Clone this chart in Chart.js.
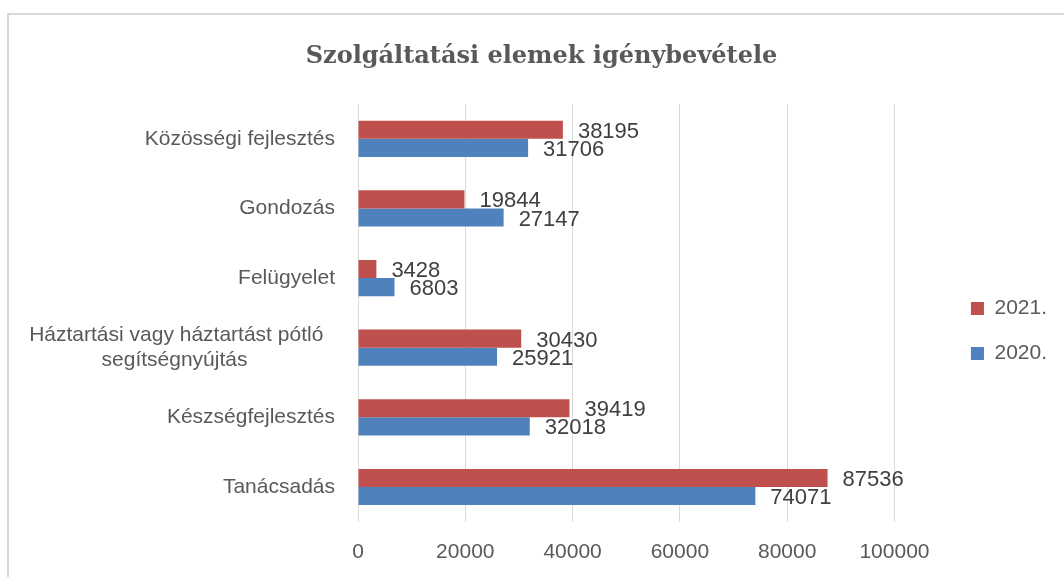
<!DOCTYPE html>
<html>
<head>
<meta charset="utf-8">
<script src="https://cdn.jsdelivr.net/npm/chart.js@4.4.1/dist/chart.umd.min.js"></script>
<style>
  html, body { margin: 0; padding: 0; background: #fff; overflow: hidden; }
  #frame {
    position: absolute; left: 7px; top: 13px; width: 1200px; height: 700px;
    border-left: 2px solid #d9d9d9; border-top: 2px solid #d9d9d9;
  }
  #myChart { position: absolute; left: 0; top: 0; }
</style>
</head>
<body>
<div id="frame"></div>
<canvas id="myChart" width="1080" height="577"></canvas>
<script>
// data
const categories = [
  'Közösségi fejlesztés',
  'Gondozás',
  'Felügyelet',
  ['Háztartási vagy háztartást pótló', 'segítségnyújtás'],
  'Készségfejlesztés',
  'Tanácsadás'
];
const values2021 = [38195, 19844, 3428, 30430, 39419, 87536];
const values2020 = [31706, 27147, 6803, 25921, 32018, 74071];
const xTicks = [0, 20000, 40000, 60000, 80000, 100000];

const labelFont = "'Liberation Sans', Arial, sans-serif";
Chart.defaults.font.family = labelFont;
Chart.defaults.font.size = 21;
Chart.defaults.color = '#595959';

// value labels next to the bar ends
const barLabels = {
  id: 'barLabels',
  afterDatasetsDraw(chart) {
    const ctx = chart.ctx;
    ctx.save();
    ctx.font = '22px ' + labelFont;
    ctx.fillStyle = '#404040';
    ctx.textAlign = 'left';
    ctx.textBaseline = 'middle';
    chart.data.datasets.forEach((ds, i) => {
      chart.getDatasetMeta(i).data.forEach((bar, j) => {
        ctx.fillText(ds.data[j], bar.x + 15, bar.y + 2);
      });
    });
    ctx.restore();
  }
};

let myChart = document.getElementById('myChart').getContext('2d');

let serviceChart = new Chart(myChart, {
  type: 'bar',
  data: {
    labels: categories,
    datasets: [{
      label: '2021.',
      data: values2021,
      backgroundColor: '#C0504D',
      categoryPercentage: 0.52,
      barPercentage: 1
    }, {
      label: '2020.',
      data: values2020,
      backgroundColor: '#4F81BD',
      categoryPercentage: 0.52,
      barPercentage: 1
    }]
  },
  options: {
    indexAxis: 'y',
    responsive: false,
    animation: false,
    layout: {
      padding: { left: 26, right: 23, top: 0, bottom: 12 }
    },
    scales: {
      x: {
        min: 0,
        max: 100000,
        afterBuildTicks: (scale) => { scale.ticks = xTicks.map(v => ({ value: v })); },
        afterFit: (scale) => { scale.height = 43.2; },
        grid: { color: '#d9d9d9', drawTicks: false },
        border: { display: false },
        ticks: { padding: 18, color: '#595959', maxRotation: 0, callback: (v) => String(v) }
      },
      y: {
        grid: { display: false, drawTicks: false },
        border: { display: false },
        afterFit: (scale) => { scale.width = 332; },
        ticks: {
          padding: 23,
          color: '#595959',
          font: { size: 21, lineHeight: 1.15 },
          callback: function (value) {
            const label = this.getLabelForValue(value);
            if (!Array.isArray(label)) return label;
            // Excel centres wrapped lines, Chart.js right-aligns them
            const ctx = this.chart.ctx;
            ctx.font = '21px ' + labelFont;
            const sp = ctx.measureText('\u00a0').width;
            const widths = label.map(l => ctx.measureText(l).width);
            const widest = Math.max(...widths);
            return label.map((l, i) => l + '\u00a0'.repeat(Math.round((widest - widths[i]) / 2 / sp) + 2));
          }
        }
      },
      // empty spacer between plot and legend
      y2: {
        type: 'category',
        position: 'right',
        grid: { display: false, drawTicks: false },
        border: { display: false },
        ticks: { display: false },
        afterFit: (scale) => { scale.width = 52.5; }
      }
    },
    plugins: {
      title: {
        display: true,
        text: 'Szolgáltatási elemek igénybevétele',
        color: '#595959',
        font: { family: "'DejaVu Serif', serif", size: 24, weight: 'bold', lineHeight: 1.2 },
        padding: { top: 42, bottom: 33.2 }
      },
      legend: {
        display: true,
        position: 'right',
        fullSize: false,
        title: { display: true, text: '', font: { size: 10 }, padding: { top: 12, bottom: 12 } },
        labels: {
          boxWidth: 13,
          boxHeight: 13,
          padding: 24,
          color: '#595959',
          font: { size: 21 }
        }
      },
      tooltip: { enabled: false }
    }
  },
  plugins: [barLabels]
});
</script>
</body>
</html>
